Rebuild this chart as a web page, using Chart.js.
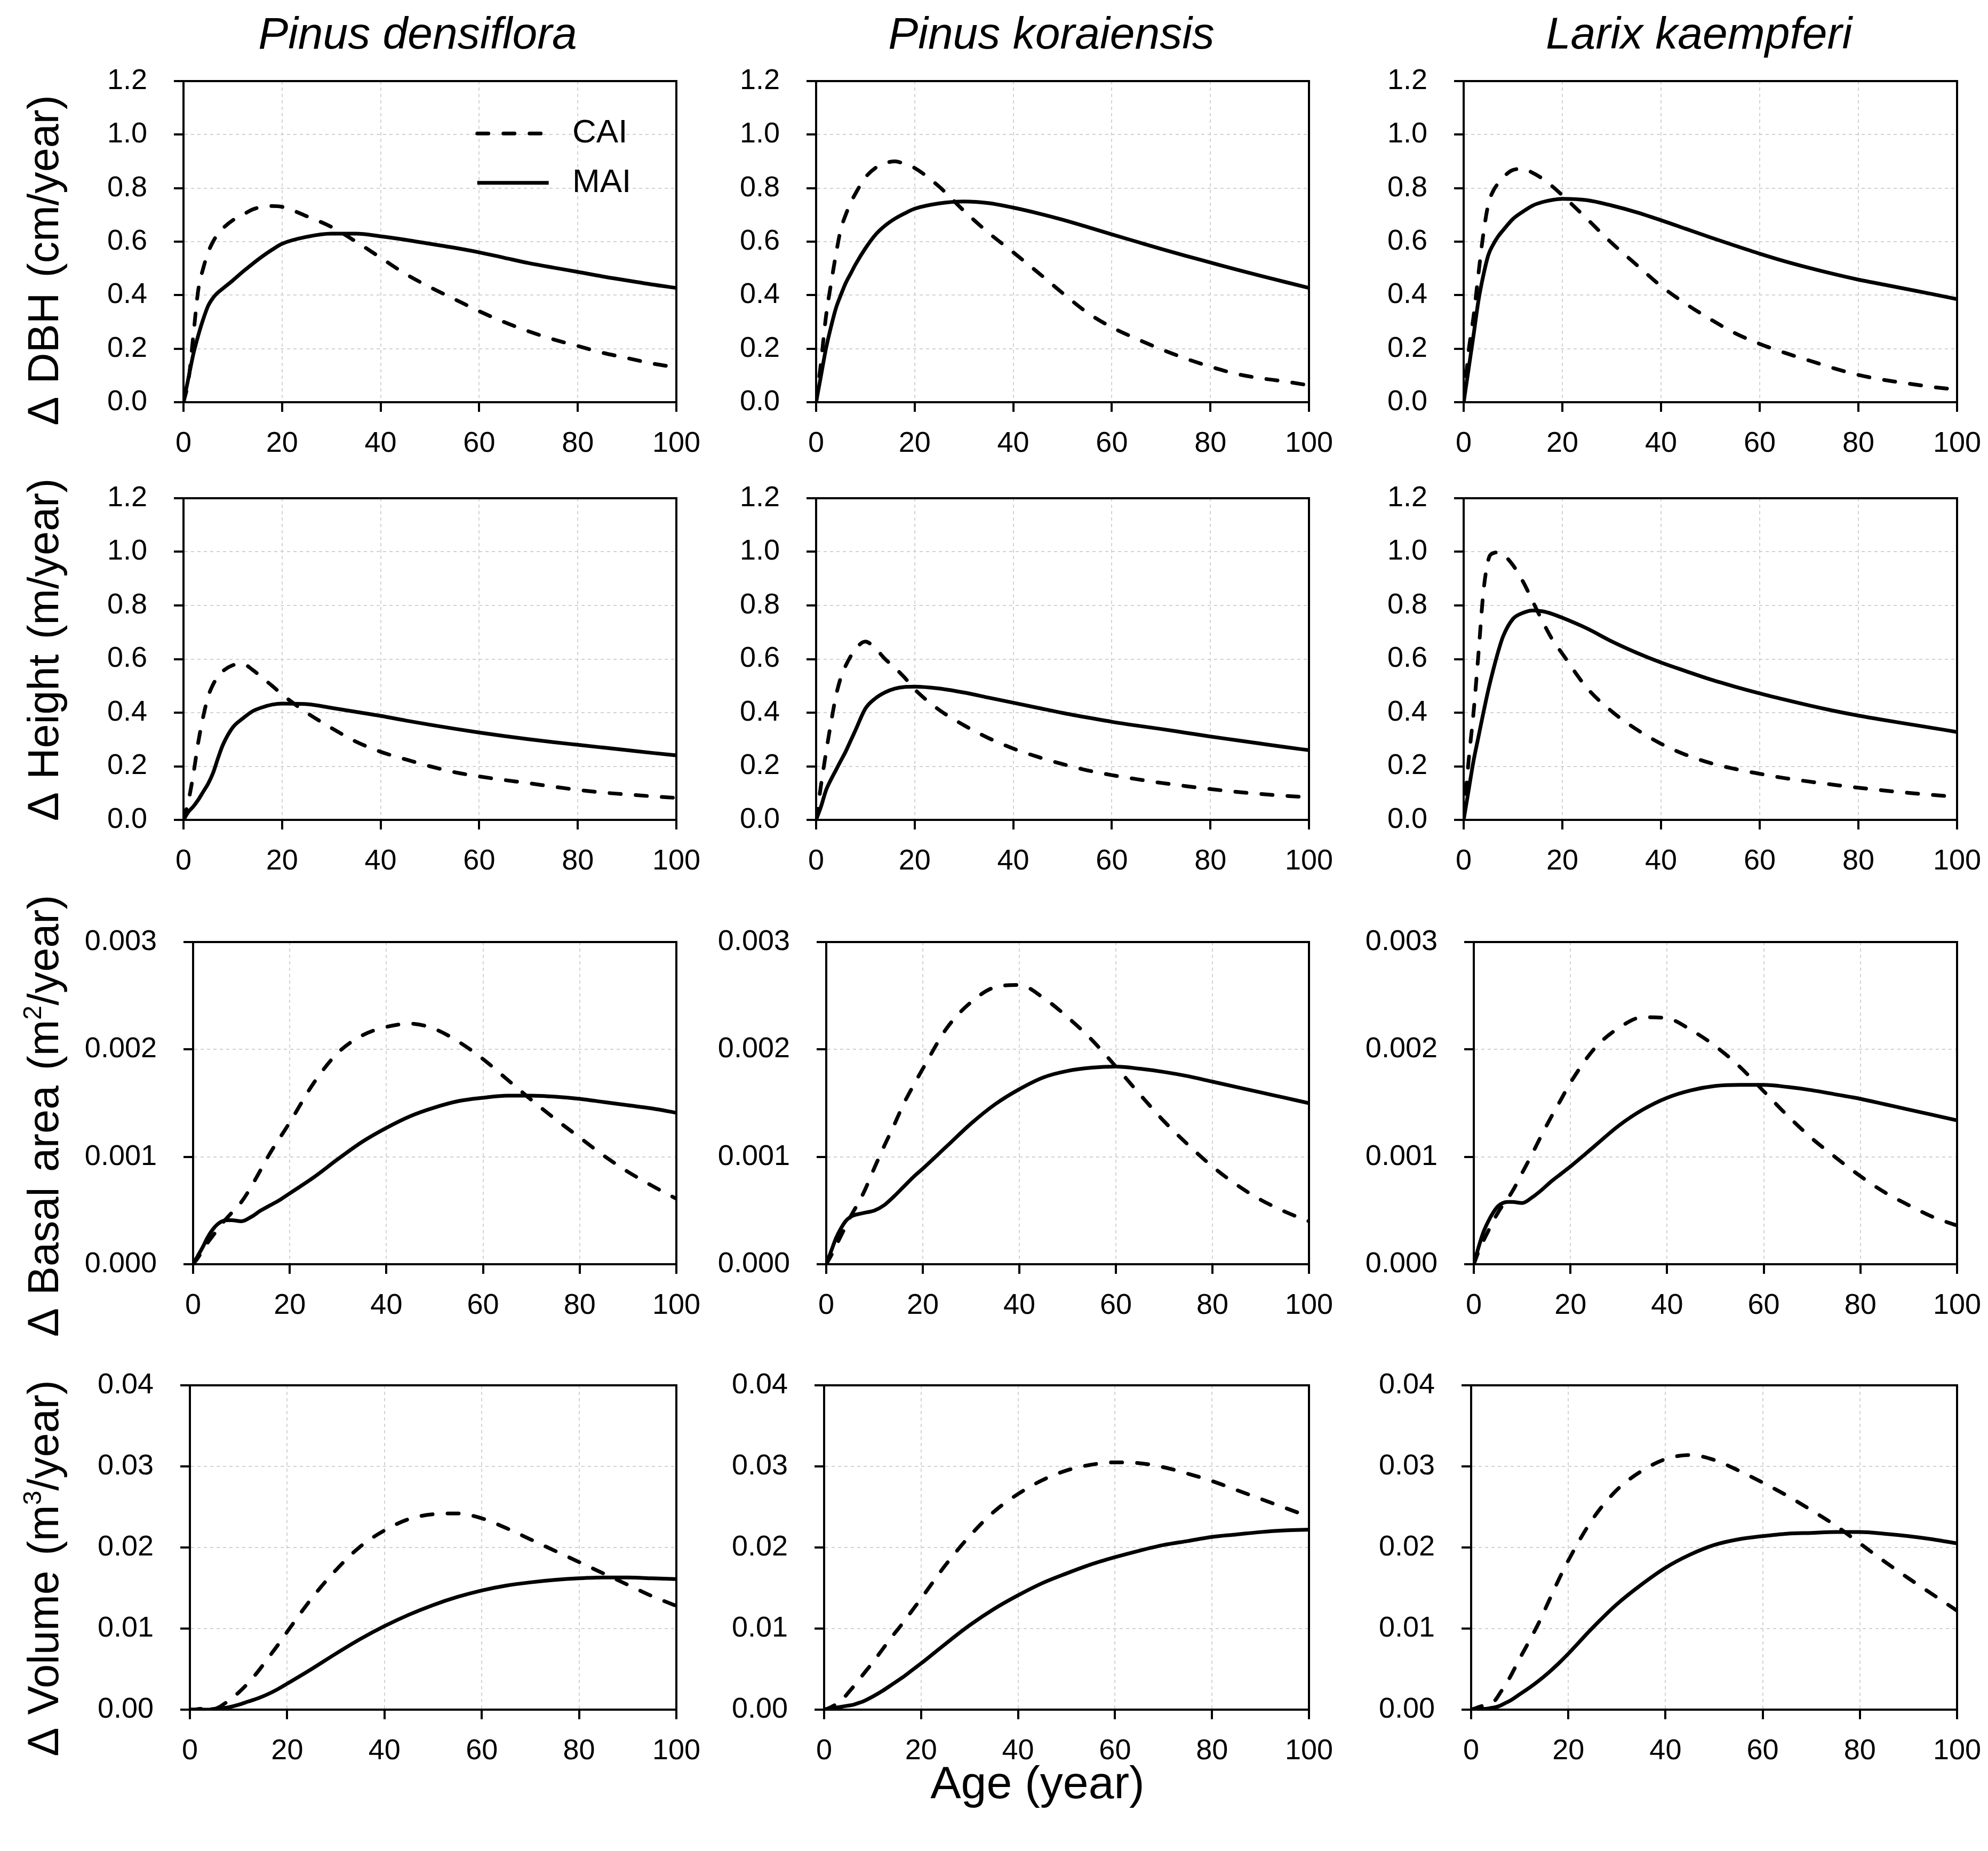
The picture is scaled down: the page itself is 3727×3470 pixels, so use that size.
<!DOCTYPE html>
<html>
<head>
<meta charset="utf-8">
<script src="https://cdn.jsdelivr.net/npm/chart.js@4.4.1/dist/chart.umd.min.js"></script>
<style>
html, body { margin: 0; padding: 0; background: #fff; }
#fig { position: relative; width: 3727px; height: 3470px; font-family: "Liberation Sans", Arial, sans-serif; color: #000; }
#fig canvas { position: absolute; }
.lbl { position: absolute; white-space: nowrap; transform: translate(-50%, -50%); line-height: 1; }
.col { font-size: 84px; font-style: italic; }
.ytitle { font-size: 81px; word-spacing: 6px; transform: translate(-50%, -50%) rotate(-90deg); }
.xtitle { font-size: 86px; transform: translate(-50%, 0); }
sup { font-size: 0.6em; vertical-align: 0.65em; line-height: 0; }
</style>
</head>
<body>
<div id="fig"></div>
<script>
// ---------------------------------------------------------------------------
// Data
// ---------------------------------------------------------------------------
const ages = [0, 1, 2, 3, 4, 5, 6, 7, 8, 10, 12, 14, 16, 18, 20, 25, 30, 35, 40, 45, 50, 55, 60, 65, 70, 75, 80, 85, 90, 95, 100];

const species = ['Pinus densiflora', 'Pinus koraiensis', 'Larix kaempferi'];
const seriesNames = ['CAI', 'MAI'];

// Δ DBH (cm/year)
const dbhCaiPd = [0, 0.08, 0.25, 0.42, 0.50, 0.56, 0.60, 0.63, 0.65, 0.68, 0.70, 0.72, 0.73, 0.733, 0.73, 0.695, 0.655, 0.60, 0.54, 0.48, 0.43, 0.385, 0.34, 0.30, 0.265, 0.235, 0.21, 0.185, 0.165, 0.145, 0.13];
const dbhMaiPd = [0, 0.09, 0.18, 0.25, 0.31, 0.36, 0.39, 0.41, 0.425, 0.455, 0.487, 0.517, 0.545, 0.57, 0.592, 0.618, 0.63, 0.63, 0.62, 0.607, 0.592, 0.577, 0.56, 0.54, 0.52, 0.503, 0.487, 0.47, 0.455, 0.44, 0.427];
const dbhCaiPk = [0, 0.15, 0.32, 0.44, 0.55, 0.645, 0.70, 0.745, 0.78, 0.84, 0.875, 0.893, 0.90, 0.89, 0.875, 0.805, 0.715, 0.633, 0.56, 0.485, 0.408, 0.335, 0.28, 0.237, 0.198, 0.163, 0.133, 0.107, 0.09, 0.078, 0.063];
const dbhMaiPk = [0, 0.10, 0.20, 0.28, 0.35, 0.40, 0.445, 0.48, 0.515, 0.575, 0.625, 0.66, 0.686, 0.706, 0.723, 0.743, 0.75, 0.744, 0.727, 0.706, 0.682, 0.655, 0.627, 0.60, 0.573, 0.547, 0.522, 0.497, 0.473, 0.45, 0.427];
const dbhCaiLk = [0, 0.19, 0.32, 0.48, 0.63, 0.74, 0.79, 0.818, 0.84, 0.868, 0.872, 0.857, 0.835, 0.806, 0.773, 0.685, 0.595, 0.514, 0.434, 0.368, 0.31, 0.258, 0.218, 0.185, 0.156, 0.127, 0.102, 0.084, 0.07, 0.057, 0.047];
const dbhMaiLk = [0, 0.124, 0.25, 0.38, 0.475, 0.55, 0.59, 0.62, 0.643, 0.685, 0.712, 0.735, 0.748, 0.756, 0.76, 0.755, 0.735, 0.71, 0.68, 0.648, 0.616, 0.585, 0.555, 0.527, 0.502, 0.479, 0.458, 0.44, 0.422, 0.404, 0.385];

// Δ Height (m/year)
const htCaiPd = [0, 0.07, 0.17, 0.29, 0.385, 0.46, 0.505, 0.535, 0.555, 0.577, 0.582, 0.56, 0.53, 0.50, 0.468, 0.40, 0.343, 0.292, 0.254, 0.226, 0.20, 0.178, 0.162, 0.149, 0.137, 0.124, 0.112, 0.102, 0.095, 0.088, 0.082];
const htMaiPd = [0, 0.03, 0.05, 0.075, 0.105, 0.135, 0.175, 0.23, 0.28, 0.345, 0.378, 0.405, 0.42, 0.43, 0.434, 0.432, 0.418, 0.403, 0.388, 0.371, 0.355, 0.34, 0.326, 0.313, 0.301, 0.29, 0.28, 0.27, 0.26, 0.25, 0.241];
const htCaiPk = [0, 0.13, 0.25, 0.36, 0.46, 0.53, 0.575, 0.61, 0.638, 0.665, 0.64, 0.60, 0.567, 0.53, 0.487, 0.41, 0.353, 0.305, 0.266, 0.235, 0.208, 0.185, 0.167, 0.152, 0.138, 0.126, 0.115, 0.105, 0.097, 0.09, 0.084];
const htMaiPk = [0, 0.05, 0.11, 0.15, 0.185, 0.22, 0.255, 0.295, 0.335, 0.415, 0.453, 0.476, 0.49, 0.496, 0.497, 0.49, 0.475, 0.456, 0.437, 0.418, 0.399, 0.382, 0.366, 0.352, 0.339, 0.325, 0.311, 0.298, 0.285, 0.272, 0.26];
const htCaiLk = [0, 0.22, 0.40, 0.62, 0.85, 0.97, 0.995, 0.998, 0.99, 0.95, 0.89, 0.815, 0.74, 0.672, 0.62, 0.492, 0.405, 0.338, 0.284, 0.243, 0.212, 0.19, 0.172, 0.156, 0.143, 0.131, 0.12, 0.11, 0.101, 0.093, 0.086];
const htMaiLk = [0, 0.11, 0.22, 0.31, 0.40, 0.485, 0.56, 0.628, 0.685, 0.75, 0.772, 0.781, 0.778, 0.768, 0.754, 0.714, 0.666, 0.624, 0.587, 0.555, 0.524, 0.497, 0.472, 0.449, 0.427, 0.407, 0.389, 0.373, 0.358, 0.343, 0.328];

// Δ Basal area (m2/year)
const baCaiPd = [0, 0.00006, 0.00013, 0.0002, 0.00026, 0.00032, 0.00038, 0.00043, 0.00048, 0.00058, 0.00072, 0.00088, 0.00104, 0.00118, 0.00132, 0.00169, 0.00197, 0.00213, 0.00221, 0.00224, 0.00219, 0.00207, 0.00191, 0.00172, 0.00153, 0.00135, 0.00118, 0.00101, 0.00086, 0.00073, 0.00061];
const baMaiPd = [0, 0.00008, 0.00016, 0.00025, 0.00032, 0.00037, 0.0004, 0.00041, 0.00041, 0.0004, 0.00044, 0.0005, 0.00055, 0.0006, 0.00066, 0.00081, 0.00098, 0.00114, 0.00127, 0.00138, 0.00146, 0.00152, 0.00155, 0.00157, 0.00157, 0.00156, 0.00154, 0.00151, 0.00148, 0.00145, 0.00141];
const baCaiPk = [0, 0.00008, 0.00017, 0.00026, 0.00035, 0.00044, 0.00052, 0.0006, 0.00069, 0.0009, 0.0011, 0.00129, 0.00149, 0.00166, 0.00182, 0.0022, 0.00244, 0.00258, 0.0026, 0.00248, 0.0023, 0.00209, 0.00184, 0.00158, 0.00133, 0.00111, 0.00091, 0.00074, 0.0006, 0.00049, 0.0004];
const baMaiPk = [0, 0.00012, 0.00024, 0.00033, 0.0004, 0.00044, 0.00046, 0.00047, 0.00048, 0.0005, 0.00055, 0.00063, 0.00072, 0.00081, 0.00089, 0.0011, 0.00131, 0.00149, 0.00163, 0.00174, 0.0018, 0.00183, 0.00184, 0.00182, 0.00179, 0.00175, 0.0017, 0.00165, 0.0016, 0.00155, 0.0015];
const baCaiLk = [0, 0.00012, 0.00022, 0.00031, 0.0004, 0.00048, 0.00055, 0.00061, 0.00068, 0.00085, 0.00102, 0.0012, 0.00137, 0.00153, 0.00169, 0.00201, 0.0022, 0.0023, 0.00229, 0.00218, 0.00203, 0.00184, 0.00161, 0.00138, 0.00117, 0.00099, 0.00082, 0.00067, 0.00055, 0.00044, 0.00036];
const baMaiLk = [0, 0.00016, 0.0003, 0.0004, 0.00048, 0.00054, 0.00057, 0.00058, 0.00058, 0.00057, 0.00062, 0.00069, 0.00077, 0.00084, 0.00091, 0.0011, 0.00129, 0.00144, 0.00155, 0.00162, 0.00166, 0.00167, 0.00167, 0.00165, 0.00162, 0.00158, 0.00154, 0.00149, 0.00144, 0.00139, 0.00134];

// Δ Volume (m3/year)
const volCaiPd = [0, 0, 0.0001, 0.0001, 0.0001, 0.0001, 0.0003, 0.0007, 0.0011, 0.0021, 0.0033, 0.0047, 0.0063, 0.0079, 0.0096, 0.0137, 0.0172, 0.0201, 0.0221, 0.0235, 0.0241, 0.0242, 0.0236, 0.0224, 0.021, 0.0196, 0.0182, 0.0168, 0.0154, 0.014, 0.0128];
const volMaiPd = [0, 0, 0, 0, 0, 0.0001, 0.0001, 0.0002, 0.0003, 0.0006, 0.001, 0.0014, 0.0019, 0.0025, 0.0032, 0.005, 0.0069, 0.0087, 0.0103, 0.0117, 0.0129, 0.0139, 0.0147, 0.0153, 0.0157, 0.016, 0.0162, 0.0163, 0.0163, 0.0162, 0.0161];
const volCaiPk = [0, 0.0002, 0.0005, 0.0008, 0.0014, 0.0021, 0.0028, 0.0035, 0.0043, 0.0058, 0.0074, 0.009, 0.0105, 0.0121, 0.0137, 0.0178, 0.0214, 0.0244, 0.0266, 0.0283, 0.0295, 0.0302, 0.0305, 0.0304, 0.0299, 0.0291, 0.0282, 0.0271, 0.026, 0.0249, 0.0238];
const volMaiPk = [0, 0.0001, 0.0002, 0.0003, 0.0004, 0.0005, 0.0006, 0.0008, 0.001, 0.0016, 0.0023, 0.0031, 0.0039, 0.0048, 0.0057, 0.0081, 0.0104, 0.0124, 0.0141, 0.0156, 0.0168, 0.0179, 0.0188, 0.0196, 0.0203, 0.0208, 0.0213, 0.0216, 0.0219, 0.0221, 0.0222];
const volCaiLk = [0, 0.0002, 0.0004, 0.0006, 0.0008, 0.0012, 0.0021, 0.003, 0.004, 0.0063, 0.0085, 0.0108, 0.0134, 0.016, 0.0184, 0.0235, 0.0271, 0.0294, 0.0309, 0.0314, 0.0308, 0.0295, 0.028, 0.0264, 0.0246, 0.0227, 0.0205, 0.0183, 0.0162, 0.0142, 0.0122];
const volMaiLk = [0, 0, 0.0001, 0.0001, 0.0002, 0.0003, 0.0005, 0.0008, 0.0011, 0.0019, 0.0027, 0.0036, 0.0046, 0.0057, 0.0069, 0.0101, 0.013, 0.0154, 0.0175, 0.0191, 0.0203, 0.021, 0.0214, 0.0217, 0.0218, 0.0219, 0.0219, 0.0217, 0.0214, 0.021, 0.0205];

// Tick labels
const ageTicks = [0, 20, 40, 60, 80, 100];
const dbhTicks = ['0.0', '0.2', '0.4', '0.6', '0.8', '1.0', '1.2'];
const heightTicks = ['0.0', '0.2', '0.4', '0.6', '0.8', '1.0', '1.2'];
const basalTicks = ['0.000', '0.001', '0.002', '0.003'];
const volumeTicks = ['0.00', '0.01', '0.02', '0.03', '0.04'];

const rowTitles = [
    'Δ DBH (cm/year)',
    'Δ Height (m/year)',
    'Δ Basal area (m<sup>2</sup>/year)',
    'Δ Volume (m<sup>3</sup>/year)'
];
const xTitle = 'Age (year)';

// ---------------------------------------------------------------------------
// Layout (plot-area boxes in page pixels)
// ---------------------------------------------------------------------------
const colRight = [1268, 2454, 3669];
const rowTop = [152, 934, 1766, 2597];
const rowBottom = [754, 1537, 2370, 3205];
const rowLeft = [[344, 1530, 2744], [344, 1530, 2744], [362, 1549, 2763], [356, 1545, 2758]];
const Y_AXIS_W = 270, X_AXIS_H = 120, PAD_TOP = 100, PAD_RIGHT = 100;

const rows = [
    { ticks: dbhTicks, series: [[dbhCaiPd, dbhMaiPd], [dbhCaiPk, dbhMaiPk], [dbhCaiLk, dbhMaiLk]] },
    { ticks: heightTicks, series: [[htCaiPd, htMaiPd], [htCaiPk, htMaiPk], [htCaiLk, htMaiLk]] },
    { ticks: basalTicks, series: [[baCaiPd, baMaiPd], [baCaiPk, baMaiPk], [baCaiLk, baMaiLk]] },
    { ticks: volumeTicks, series: [[volCaiPd, volMaiPd], [volCaiPk, volMaiPk], [volCaiLk, volMaiLk]] }
];

const FONT = '"Liberation Sans", Arial, sans-serif';
const tickFont = { family: FONT, size: 54 };

// box round the plot area (Chart.js only draws the left / bottom border)
const framePlugin = {
    id: 'frame',
    afterDraw(chart) {
        const a = chart.chartArea, ctx = chart.ctx;
        ctx.save();
        ctx.strokeStyle = '#000';
        ctx.lineWidth = 4;
        ctx.strokeRect(a.left, a.top, a.right - a.left, a.bottom - a.top);
        ctx.restore();
    }
};

// legend drawn inside the first panel
const inLegendPlugin = {
    id: 'inLegend',
    afterDraw(chart, args, opts) {
        if (!opts.show) return;
        const a = chart.chartArea, ctx = chart.ctx;
        const w = a.right - a.left, h = a.bottom - a.top;
        chart.data.datasets.forEach((ds, i) => {
            const y = a.top + h * (0.163 + i * 0.154);
            ctx.save();
            ctx.strokeStyle = ds.borderColor;
            ctx.lineWidth = ds.borderWidth;
            ctx.lineCap = ds.borderCapStyle;
            ctx.setLineDash(ds.borderDash || []);
            ctx.beginPath();
            ctx.moveTo(a.left + w * 0.596, y);
            ctx.lineTo(a.left + w * 0.741, y);
            ctx.stroke();
            ctx.setLineDash([]);
            ctx.fillStyle = '#000';
            ctx.font = '62px ' + FONT;
            ctx.textBaseline = 'middle';
            ctx.fillText(ds.label, a.left + w * 0.789, y);
            ctx.restore();
        });
    }
};

function makeDataset(label, values, dashed) {
    return {
        label,
        data: ages.map((x, i) => ({ x, y: values[i] })),
        borderColor: '#000',
        borderWidth: 7,
        borderDash: dashed ? [21, 28] : [],
        borderCapStyle: dashed ? 'round' : 'butt',
        pointRadius: 0,
        fill: false,
        cubicInterpolationMode: 'monotone'
    };
}

function gridOpts() {
    return { color: '#d2d2d2', lineWidth: 2, tickLength: 18, tickColor: '#000', tickWidth: 4, tickBorderDash: [] };
}

const fig = document.getElementById('fig');

function addLabel(cls, html, x, y) {
    const d = document.createElement('div');
    d.className = 'lbl ' + cls;
    d.innerHTML = html;
    d.style.left = x + 'px';
    d.style.top = y + 'px';
    fig.appendChild(d);
}

function buildPanel(r, c) {
    const row = rows[r];
    const left = rowLeft[r][c], right = colRight[c];
    const top = rowTop[r], bottom = rowBottom[r];
    const canvas = document.createElement('canvas');
    canvas.width = Y_AXIS_W + (right - left) + PAD_RIGHT;
    canvas.height = PAD_TOP + (bottom - top) + X_AXIS_H;
    canvas.style.left = (left - Y_AXIS_W) + 'px';
    canvas.style.top = (top - PAD_TOP) + 'px';
    fig.appendChild(canvas);

    const yValues = row.ticks.map(Number);
    const [cai, mai] = row.series[c];

    new Chart(canvas, {
        type: 'line',
        data: {
            datasets: [
                makeDataset(seriesNames[0], cai, true),
                makeDataset(seriesNames[1], mai, false)
            ]
        },
        options: {
            responsive: false,
            animation: false,
            devicePixelRatio: 1,
            layout: { padding: { top: PAD_TOP, right: PAD_RIGHT, left: 0, bottom: 0 } },
            plugins: {
                legend: { display: false },
                tooltip: { enabled: false },
                inLegend: { show: r === 0 && c === 0 }
            },
            scales: {
                x: {
                    type: 'linear',
                    min: 0,
                    max: 100,
                    afterBuildTicks: s => { s.ticks = ageTicks.map(v => ({ value: v })); },
                    afterFit: s => { s.height = X_AXIS_H; },
                    ticks: { font: tickFont, color: '#000', padding: 28, maxRotation: 0, autoSkip: false },
                    grid: gridOpts(),
                    border: { color: '#000', width: 4, dash: [6, 6] }
                },
                y: {
                    type: 'linear',
                    min: 0,
                    max: yValues[yValues.length - 1],
                    afterBuildTicks: s => { s.ticks = yValues.map(v => ({ value: v })); },
                    afterFit: s => { s.width = Y_AXIS_W; },
                    ticks: {
                        font: tickFont,
                        color: '#000',
                        padding: 50,
                        autoSkip: false,
                        callback: (v, i) => row.ticks[i]
                    },
                    grid: gridOpts(),
                    border: { color: '#000', width: 4, dash: [6, 6] }
                }
            }
        },
        plugins: [framePlugin, inLegendPlugin]
    });
}

for (let r = 0; r < rows.length; r++) {
    for (let c = 0; c < species.length; c++) {
        buildPanel(r, c);
    }
}

// column titles, row titles, shared x title
const colTitleX = [783, 1971, 3185];
species.forEach((s, c) => addLabel('col', s, colTitleX[c], 62));
const rowTitleY = [488, 1218, 2092, 2940];
rowTitles.forEach((t, r) => addLabel('ytitle', t, 81, rowTitleY[r]));
addLabel('xtitle', xTitle, 1945, 3298);
</script>
</body>
</html>
